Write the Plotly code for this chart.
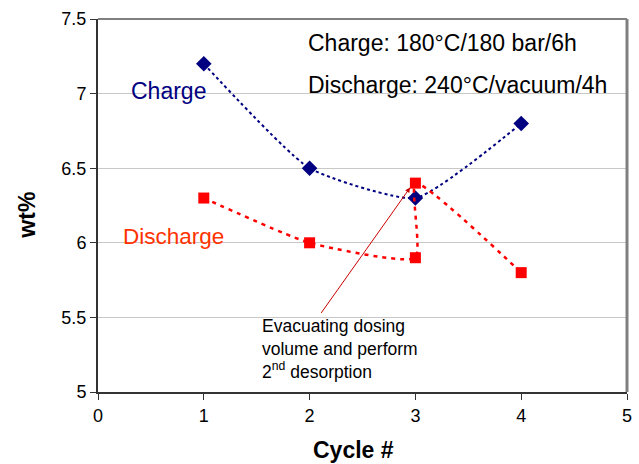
import plotly.graph_objects as go

charge_x = [1, 2, 3, 4]
charge_y = [7.2, 6.5, 6.3, 6.8]
discharge_x = [1, 2, 3, 3, 4]
discharge_y = [6.3, 6.0, 5.9, 6.4, 5.8]
x_ticks = [0, 1, 2, 3, 4, 5]
y_ticks = [5, 5.5, 6, 6.5, 7, 7.5]

FONT = "Liberation Sans, Arial, sans-serif"

# plot area in pixels: left 98, right 632-ish, top 19, bottom 392
L, R, T, B = 98, 7, 19, 72
PW, PH = 639 - L - R, 464 - T - B


def px_to_paper(px, py):
    return (px - L) / PW, (464 - B - py) / PH


fig = go.Figure()
fig.add_trace(go.Scatter(
    x=charge_x, y=charge_y, mode="lines+markers",
    line=dict(color="#000080", width=2, dash="dot", shape="spline", smoothing=0.5),
    marker=dict(symbol="diamond", size=12, color="#000080"),
    name="Charge", showlegend=False))
fig.add_trace(go.Scatter(
    x=discharge_x, y=discharge_y, mode="lines+markers",
    line=dict(color="#FF0000", width=2.5, dash="4px,5px", shape="spline", smoothing=0.5),
    marker=dict(symbol="square", size=11, color="#FF0000"),
    name="Discharge", showlegend=False))

cx, cy = px_to_paper(356, 450)
wx, wy = px_to_paper(26, 215)

fig.update_layout(
    width=639, height=464,
    margin=dict(l=L, r=R, t=T, b=B),
    paper_bgcolor="white", plot_bgcolor="white",
    font=dict(family=FONT, color="black"),
    xaxis=dict(range=[0, 5], tickvals=x_ticks, showgrid=False, zeroline=False,
               showline=True, linecolor="#333333", linewidth=2,
               ticks="outside", ticklen=6, tickcolor="#333333", tickwidth=1,
               tickfont=dict(size=18)),
    yaxis=dict(range=[5, 7.5], tickvals=y_ticks, showgrid=True, gridcolor="#C8C8C8",
               gridwidth=1, zeroline=False,
               showline=True, linecolor="#333333", linewidth=2,
               ticks="outside", ticklen=6, tickcolor="#333333", tickwidth=1,
               tickfont=dict(size=18)),
    shapes=[
        dict(type="line", xref="paper", yref="paper", x0=0, x1=1, y0=1, y1=1,
             line=dict(color="#808080", width=2)),
        dict(type="line", xref="paper", yref="paper", x0=1, x1=1, y0=0, y1=1,
             line=dict(color="#808080", width=3)),
    ],
    annotations=[
        dict(x=cx, y=cy, xref="paper", yref="paper",
             text="<b>Cycle #</b>", showarrow=False, xanchor="center", yanchor="middle",
             font=dict(size=23)),
        dict(x=wx, y=wy, xref="paper", yref="paper",
             text="<b>wt%</b>", showarrow=False, xanchor="center", yanchor="middle",
             textangle=-90, font=dict(size=23)),
        dict(x=0.29, y=7.02, xref="x", yref="y", text="Charge", showarrow=False,
             xanchor="left", font=dict(size=23, color="#000080")),
        dict(x=0.22, y=6.04, xref="x", yref="y", text="Discharge", showarrow=False,
             xanchor="left", font=dict(size=22.5, color="#FF3300")),
        dict(x=1.97, y=7.34, xref="x", yref="y", text="Charge: 180°C/180 bar/6h",
             showarrow=False, xanchor="left", font=dict(size=23)),
        dict(x=1.97, y=7.06, xref="x", yref="y", text="Discharge: 240°C/vacuum/4h",
             showarrow=False, xanchor="left", font=dict(size=23)),
        dict(x=1.53, y=5.52, xref="x", yref="y", yanchor="top", xanchor="left",
             align="left", showarrow=False,
             text="Evacuating dosing<br>volume and perform<br>2<sup>nd</sup> desorption",
             font=dict(size=17.5)),
        dict(x=2.95, y=6.37, xref="x", yref="y", ax=2.10, ay=5.52, axref="x", ayref="y",
             text="", showarrow=True, arrowhead=2, arrowsize=1, arrowwidth=1,
             arrowcolor="#CC0000"),
    ],
)

fig.write_html("out.html")
